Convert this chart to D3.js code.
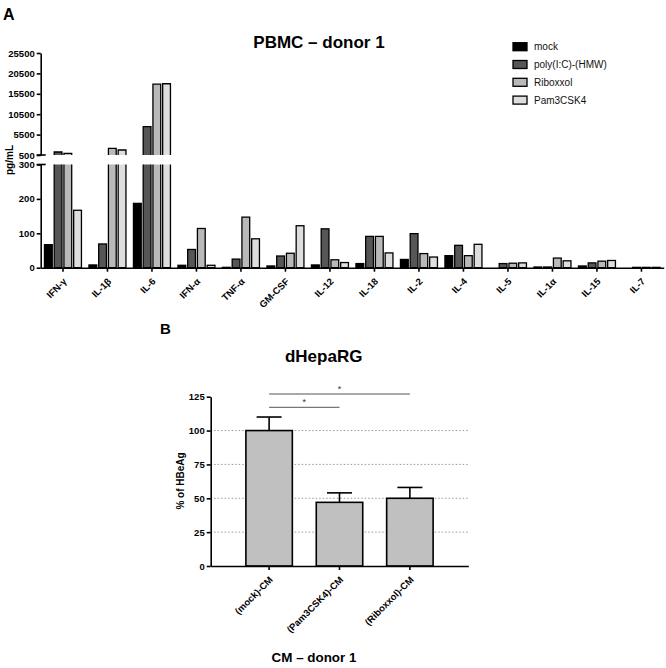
<!DOCTYPE html>
<html><head><meta charset="utf-8">
<script src="https://cdn.jsdelivr.net/npm/d3@7"></script>
<style>
body{margin:0;background:#fff;}
svg{font-family:"Liberation Sans",Arial,Helvetica,sans-serif;}
.axis path,.axis line{stroke:#000;stroke-width:1.6;}
.axis text{font-weight:bold;font-size:9.5px;fill:#000;}
</style></head>
<body><svg id="c" width="666" height="668"></svg>
<script>
// ---------- Panel A data ----------
const categories = ["IFN-γ","IL-1β","IL-6","IFN-α","TNF-α","GM-CSF","IL-12","IL-18","IL-2","IL-4","IL-5","IL-1α","IL-15","IL-7"];
const seriesNames = ["mock","poly(I:C)-(HMW)","Riboxxol","Pam3CSK4"];
const mockVals  = [67, 8, 187, 7, 1, 5, 8, 12, 24, 35, 0, 2, 5, 0];
const polyVals  = [1240, 69, 7470, 53, 25, 34, 113, 91, 99, 65, 12, 2, 14, 1];
const riboVals  = [910, 2140, 17880, 114, 147, 42, 23, 91, 41, 35, 13, 28, 19, 1];
const pam3Vals  = [167, 1730, 17960, 7, 84, 122, 15, 43, 31, 68, 14, 20, 21, 1];
const lowTicks  = [0, 100, 200, 300];
const highTicks = [500, 5500, 10500, 15500, 20500, 25500];
const seriesColors = ["#000000","#565656","#b9b9b9","#dedede"];

// ---------- Panel B data ----------
const cmGroups = ["(mock)-CM","(Pam3CSK4)-CM","(Riboxxol)-CM"];
const hbeagVals = [100, 47, 50];
const hbeagErr  = [10, 7, 8];
const bTicks = [0, 25, 50, 75, 100, 125];
const gridVals = [25, 50, 75, 100];
const sigPairs = [["(mock)-CM","(Pam3CSK4)-CM"],["(mock)-CM","(Riboxxol)-CM"]];

const svg = d3.select("#c");
const allVals = [mockVals, polyVals, riboVals, pam3Vals];
const fmt = d3.format("d");

// ================= Panel A =================
const xA = d3.scaleBand().domain(categories).range([40.7, 663.7]).padding(0);
const xSub = d3.scaleBand().domain(seriesNames).range([0, 37]).paddingInner(0.2);
const yLow = d3.scaleLinear().domain([0, 300]).range([267.7, 164.5]);
const yHigh = d3.scaleLinear().domain([500, 25500]).range([155, 53]);
const axX = xA.range()[0];

svg.append("text").attr("x", 3).attr("y", 20).attr("font-size", 16).attr("font-weight", "bold").text("A");
svg.append("text").attr("x", 319).attr("y", 48.3).attr("text-anchor", "middle")
  .attr("font-size", 17).attr("font-weight", "bold").text("PBMC – donor 1");

// bars
const gBars = svg.append("g");
seriesNames.forEach((s, si) => {
  categories.forEach((c, ci) => {
    const v = allVals[si][ci];
    const x = xA(c) + (xA.bandwidth() - 37) / 2 + xSub(s);
    const w = xSub.bandwidth();
    const col = seriesColors[si];
    if (v <= 300) {
      if (v <= 0) return;
      gBars.append("rect").attr("x", x).attr("y", yLow(v)).attr("width", w)
        .attr("height", yLow(0) - yLow(v)).attr("fill", col).attr("stroke", "#000").attr("stroke-width", 1.3);
    } else {
      gBars.append("rect").attr("x", x).attr("y", yLow(300)).attr("width", w)
        .attr("height", yLow(0) - yLow(300)).attr("fill", col);
      gBars.append("path").attr("d", `M${x},${yLow(300)}V${yLow(0)}H${x + w}V${yLow(300)}`)
        .attr("fill", "none").attr("stroke", "#000").attr("stroke-width", 1.3);
      gBars.append("rect").attr("x", x).attr("y", yHigh(v)).attr("width", w)
        .attr("height", yHigh(500) - yHigh(v)).attr("fill", col);
      gBars.append("path").attr("d", `M${x},${yHigh(500)}V${yHigh(v)}H${x + w}V${yHigh(500)}`)
        .attr("fill", "none").attr("stroke", "#000").attr("stroke-width", 1.3);
    }
  });
});

// y axes (broken)
svg.append("g").attr("class", "axis").attr("transform", `translate(${axX},0)`)
  .call(d3.axisLeft(yLow).tickValues(lowTicks).tickFormat(fmt).tickSize(4).tickSizeOuter(0).tickPadding(2));
svg.append("g").attr("class", "axis").attr("transform", `translate(${axX},0)`)
  .call(d3.axisLeft(yHigh).tickValues(highTicks).tickFormat(fmt).tickSize(4).tickSizeOuter(0).tickPadding(2));
[yLow(300), yHigh(500)].forEach(yy => {
  svg.append("line").attr("x1", axX - 4).attr("x2", axX + 5).attr("y1", yy).attr("y2", yy)
    .attr("stroke", "#000").attr("stroke-width", 1.6);
});
svg.append("text").attr("transform", `translate(13,160) rotate(-90)`).attr("text-anchor", "middle")
  .attr("font-size", 10).attr("font-weight", "bold").text("pg/mL");

// x axis
const xAxA = svg.append("g").attr("class", "axis").attr("transform", `translate(0,${yLow(0)})`)
  .call(d3.axisBottom(xA).tickSize(4).tickSizeOuter(0));
xAxA.selectAll("text").attr("text-anchor", "end").attr("dy", "0.35em").attr("dx", 0)
  .attr("y", 0).attr("x", 0).attr("font-size", 9)
  .attr("transform", `translate(2,12) rotate(-45)`);

// legend
const lg = svg.append("g");
seriesNames.forEach((s, i) => {
  const yy = 46.7 + i * 17.8;
  lg.append("rect").attr("x", 513).attr("y", yy - 4).attr("width", 14).attr("height", 8)
    .attr("fill", seriesColors[i]).attr("stroke", "#000").attr("stroke-width", 1.3);
  lg.append("text").attr("x", 534).attr("y", yy + 3.5).attr("font-size", 10).attr("fill", "#111").text(s);
});

// ================= Panel B =================
const xB = d3.scaleBand().domain(cmGroups).range([210.7, 468.3]).paddingInner(0.34).paddingOuter(0.5);
const yB = d3.scaleLinear().domain([0, 125]).range([566, 396.7]);

svg.append("text").attr("x", 160).attr("y", 334).attr("font-size", 15).attr("font-weight", "bold").text("B");
svg.append("text").attr("x", 323.7).attr("y", 361.7).attr("text-anchor", "middle")
  .attr("font-size", 17).attr("font-weight", "bold").text("dHepaRG");

svg.append("g").selectAll("line").data(gridVals).join("line")
  .attr("x1", 210.7).attr("x2", 468.3).attr("y1", d => yB(d)).attr("y2", d => yB(d))
  .attr("stroke", "#999").attr("stroke-width", 1).attr("stroke-dasharray", "1.5,2");

const gB = svg.append("g");
cmGroups.forEach((g, i) => {
  const cx = xB(g) + xB.bandwidth() / 2;
  gB.append("line").attr("x1", cx).attr("x2", cx).attr("y1", yB(hbeagVals[i])).attr("y2", yB(hbeagVals[i] + hbeagErr[i]))
    .attr("stroke", "#000").attr("stroke-width", 1.6);
  gB.append("line").attr("x1", cx - 12.5).attr("x2", cx + 12.5).attr("y1", yB(hbeagVals[i] + hbeagErr[i])).attr("y2", yB(hbeagVals[i] + hbeagErr[i]))
    .attr("stroke", "#000").attr("stroke-width", 1.6);
  gB.append("rect").attr("x", xB(g)).attr("y", yB(hbeagVals[i])).attr("width", xB.bandwidth())
    .attr("height", yB(0) - yB(hbeagVals[i])).attr("fill", "#c0c0c0").attr("stroke", "#000").attr("stroke-width", 1.6);
});

svg.append("g").attr("class", "axis").attr("transform", `translate(210.7,0)`)
  .call(d3.axisLeft(yB).tickValues(bTicks).tickFormat(fmt).tickSize(4).tickSizeOuter(0).tickPadding(2));
const xAxB = svg.append("g").attr("class", "axis").attr("transform", `translate(0,${yB(0)})`)
  .call(d3.axisBottom(xB).tickSize(4).tickSizeOuter(0));
xAxB.selectAll("text").attr("text-anchor", "end").attr("dy", "0.35em").attr("x", 0).attr("y", 0)
  .attr("font-size", 9.5).attr("transform", `translate(2,12) rotate(-45)`);

svg.append("text").attr("transform", `translate(184,481) rotate(-90)`).attr("text-anchor", "middle")
  .attr("font-size", 10).attr("font-weight", "bold").text("% of HBeAg");

const sigY = [407.3, 394];
sigPairs.forEach((p, i) => {
  const x1 = xB(p[0]) + xB.bandwidth() / 2, x2 = xB(p[1]) + xB.bandwidth() / 2;
  svg.append("line").attr("x1", x1).attr("x2", x2).attr("y1", sigY[i]).attr("y2", sigY[i])
    .attr("stroke", "#555").attr("stroke-width", 1);
  svg.append("text").attr("x", (x1 + x2) / 2).attr("y", sigY[i] - 2).attr("text-anchor", "middle")
    .attr("font-size", 9).attr("fill", "#333").text("*");
});

svg.append("text").attr("x", 314).attr("y", 661.7).attr("text-anchor", "middle")
  .attr("font-size", 13.4).attr("font-weight", "bold").text("CM – donor 1");
</script></body></html>
